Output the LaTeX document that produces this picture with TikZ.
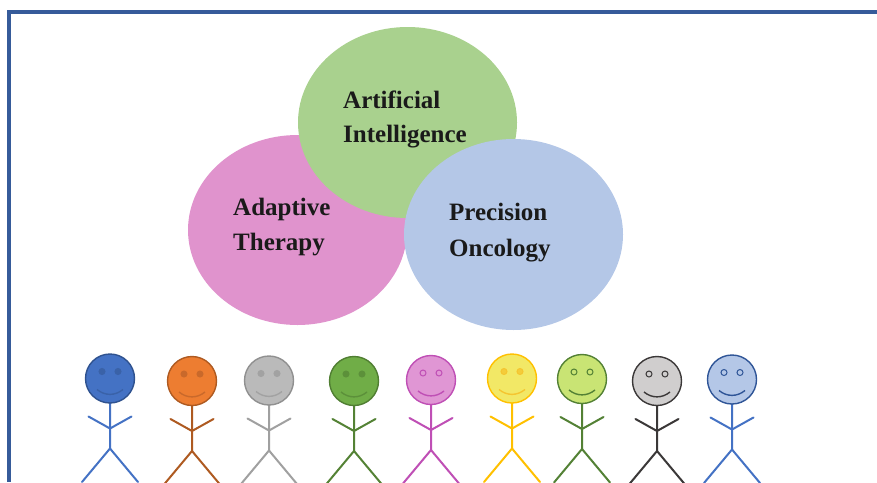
\documentclass[tikz,border=0pt]{standalone}
\usepackage{fontspec}
\setmainfont{Liberation Serif}
\begin{document}
% palette
\definecolor{frameblue}{HTML}{365B9A}
\definecolor{aigreen}{HTML}{A9D18E}
\definecolor{atpink}{HTML}{E093CD}
\definecolor{poblue}{HTML}{B4C7E7}
\definecolor{labelink}{HTML}{1A1A1A}
% people: head fill, head outline, eye fill, face ink, limbs
\definecolor{pAfill}{HTML}{4472C4}\definecolor{pAline}{HTML}{2F528F}\definecolor{pAeye}{HTML}{3A62A8}\definecolor{pAink}{HTML}{3A62A8}\definecolor{pAbody}{HTML}{4472C4}
\definecolor{pBfill}{HTML}{ED7D31}\definecolor{pBline}{HTML}{AE5A21}\definecolor{pBeye}{HTML}{C9692B}\definecolor{pBink}{HTML}{C9692B}\definecolor{pBbody}{HTML}{AE5A21}
\definecolor{pCfill}{HTML}{BABABA}\definecolor{pCline}{HTML}{909090}\definecolor{pCeye}{HTML}{A2A2A2}\definecolor{pCink}{HTML}{A2A2A2}\definecolor{pCbody}{HTML}{A0A0A0}
\definecolor{pDfill}{HTML}{70AD47}\definecolor{pDline}{HTML}{507E32}\definecolor{pDeye}{HTML}{5C903A}\definecolor{pDink}{HTML}{5C903A}\definecolor{pDbody}{HTML}{548235}
\definecolor{pEfill}{HTML}{E096D4}\definecolor{pEline}{HTML}{BF4FB5}\definecolor{pEeye}{HTML}{E096D4}\definecolor{pEink}{HTML}{BF4FB5}\definecolor{pEbody}{HTML}{BF4FB5}
\definecolor{pFfill}{HTML}{F2E866}\definecolor{pFline}{HTML}{FFC000}\definecolor{pFeye}{HTML}{F4CC3A}\definecolor{pFink}{HTML}{F5C530}\definecolor{pFbody}{HTML}{FFC000}
\definecolor{pGfill}{HTML}{C9E474}\definecolor{pGline}{HTML}{538135}\definecolor{pGeye}{HTML}{C9E474}\definecolor{pGink}{HTML}{538135}\definecolor{pGbody}{HTML}{538135}
\definecolor{pHfill}{HTML}{D0CECE}\definecolor{pHline}{HTML}{3B3838}\definecolor{pHeye}{HTML}{D0CECE}\definecolor{pHink}{HTML}{3B3838}\definecolor{pHbody}{HTML}{3B3838}
\definecolor{pIfill}{HTML}{B4C7E7}\definecolor{pIline}{HTML}{2F5597}\definecolor{pIeye}{HTML}{B4C7E7}\definecolor{pIink}{HTML}{2F5597}\definecolor{pIbody}{HTML}{4472C4}
\tikzset{
  lbl/.style={font=\bfseries\fontsize{25}{30}\selectfont, text=labelink, inner sep=0pt, anchor=base west},
  framerule/.style={draw=frameblue, line width=4pt},
  headline/.style={line width=1.4pt},
  limbline/.style={line width=2pt, line cap=round},
}
% #1,#2 head centre; #3 colour prefix (pA ... pI)
\newcommand{\stickfig}[3]{%
  \begin{scope}[shift={(#1,#2)}]
    \draw[limbline, draw=#3body] (0,24.5) -- (0,70) -- (-28,103.5);
    \draw[limbline, draw=#3body] (0,70) -- (28,103.5);
    \draw[limbline, draw=#3body] (-21.5,38) -- (0,50) -- (21.5,38);
    \filldraw[headline, fill=#3fill, draw=#3line] (0,0) circle[radius=24.5pt];
    \filldraw[line width=1pt, fill=#3eye, draw=#3ink] (-8,-7) circle[radius=3pt];
    \filldraw[line width=1pt, fill=#3eye, draw=#3ink] (8,-7) circle[radius=3pt];
    \draw[line width=1.4pt, draw=#3ink] (-13,11) .. controls (-5,17.5) and (5,17.5) .. (13,11);
  \end{scope}}
\begin{tikzpicture}[x=1pt, y=-1pt]
  \useasboundingbox (0,0) rectangle (877,482);
  \begin{scope}
    \clip (0,0) rectangle (877,482);

    % page frame (top and left edges)
    \draw[framerule] (877,12) -- (9,12) -- (9,482);

    % three overlapping fields
    \fill[atpink]  (297.5,230)   ellipse[x radius=109.5pt, y radius=95pt];
    \fill[aigreen] (407.5,122.5) ellipse[x radius=109.5pt, y radius=95.5pt];
    \fill[poblue]  (513.5,234.5) ellipse[x radius=109.5pt, y radius=95.5pt];

    \node[lbl] (ai1) at (343,108) {Artificial};
    \node[lbl] (ai2) at (343,142) {Intelligence};
    \node[lbl] (at1) at (233,215) {Adaptive};
    \node[lbl] (at2) at (233,250) {Therapy};
    \node[lbl] (po1) at (449,220) {Precision};
    \node[lbl] (po2) at (449,256) {Oncology};

    % row of people
    \stickfig{110}{378.5}{pA}
    \stickfig{192}{381}{pB}
    \stickfig{269}{380.5}{pC}
    \stickfig{354}{381}{pD}
    \stickfig{431}{380}{pE}
    \stickfig{512}{378.5}{pF}
    \stickfig{582}{379}{pG}
    \stickfig{657}{381}{pH}
    \stickfig{732}{379.5}{pI}
  \end{scope}
\end{tikzpicture}
\end{document}
